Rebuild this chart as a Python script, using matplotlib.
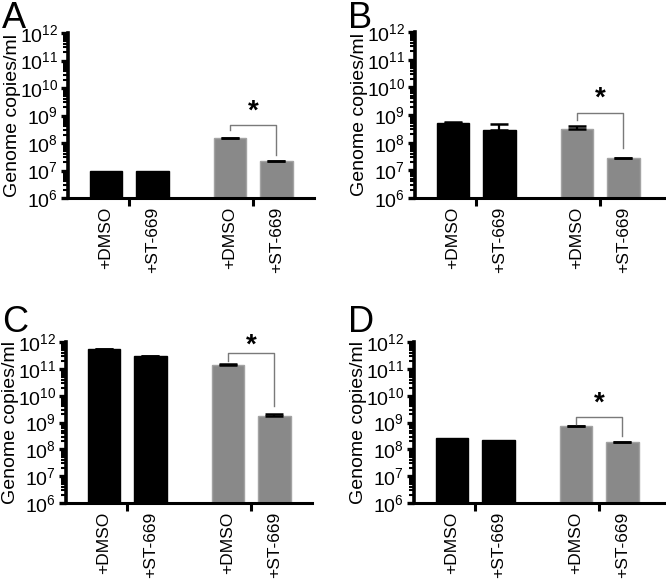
import matplotlib
matplotlib.use("Agg")
import matplotlib.pyplot as plt
from matplotlib.ticker import LogLocator, NullFormatter

plt.rcParams["font.family"] = ["Liberation Sans", "DejaVu Sans"]

# bar values per panel: two black bars, then two grey bars
labels = ["+DMSO", "+ST-669", "+DMSO", "+ST-669"]
panel_names = ["A", "B", "C", "D"]
values = {
    "A": [1.0e7, 1.0e7, 1.5e8, 2.2e7],
    "B": [5.0e8, 2.9e8, 3.2e8, 2.8e7],
    "C": [5.3e11, 2.9e11, 1.4e11, 1.8e9],
    "D": [2.6e8, 2.15e8, 7.5e8, 1.9e8],
}
# top of the upper error bar (None = no error bar drawn)
err_top = {
    "A": [None, None, 1.55e8, 2.25e7],
    "B": [5.5e8, 4.6e8, 4.0e8, 2.9e7],
    "C": [5.6e11, 3.0e11, 1.5e11, 2.05e9],
    "D": [None, None, 7.7e8, 1.95e8],
}
# significance bracket: top, left leg end, right leg end, asterisk height
bracket = {
    "A": [4.4e8, 3.0e8, 3.6e7, 1.4e9],
    "B": [1.15e9, 6.6e8, 6.3e7, 4.0e9],
    "C": [3.8e11, 2.0e11, 4.0e9, 7.5e11],
    "D": [1.55e9, 9.0e8, 3.2e8, 5.0e9],
}

W, H = 666, 582
fig = plt.figure(figsize=(W / 100, H / 100), dpi=100)

# axes boxes in pixels: left, top, right, bottom
boxes = {
    "A": (68, 33, 314, 198),
    "B": (415, 32, 666, 198),
    "C": (66, 342, 312, 503),
    "D": (414, 342, 666, 503),
}
letter_pos = {"A": (2, 1), "B": (348, 1), "C": (2, 305), "D": (348, 305)}

xpos = [0, 1, 2.68, 3.68]
colors = ["black", "black", "#898989", "#898989"]
edges = ["black", "black", "#a3a3a3", "#a3a3a3"]
unit = 46.3

for name in panel_names:
    l, t, r, b = boxes[name]
    ax = fig.add_axes([l / W, 1 - b / H, (r - l) / W, (b - t) / H])
    vals = values[name]
    ax.set_yscale("log")
    ax.bar(xpos, vals, width=0.71, color=colors, edgecolor=edges,
           linewidth=1.0, bottom=0, zorder=2)
    for x, v, e in zip(xpos, vals, err_top[name]):
        if e is not None:
            ax.errorbar([x], [v], yerr=[[0], [e - v]], fmt="none",
                        ecolor="black", elinewidth=1.6, capsize=6.5,
                        capthick=1.8, zorder=3)
    top, lleg, rleg, star = bracket[name]
    ax.plot([xpos[2], xpos[2], xpos[3], xpos[3]], [lleg, top, top, rleg],
            color="#7a7a7a", lw=1.0, zorder=3, clip_on=False)
    ax.text((xpos[2] + xpos[3]) / 2, star, "*", ha="center", va="center",
            fontsize=20, fontweight="bold", clip_on=False)

    ax.set_ylim(1e6, 1e12)
    xmin = -0.82
    xmax = xmin + (r - l) / unit
    ax.set_xlim(xmin, xmax)

    ax.yaxis.set_major_locator(LogLocator(base=10, numticks=10))
    ax.yaxis.set_minor_locator(LogLocator(base=10, subs=range(2, 10), numticks=100))
    ax.yaxis.set_minor_formatter(NullFormatter())
    ax.tick_params(axis="y", which="major", length=5, width=2.4,
                   labelsize=14, pad=2)
    ax.tick_params(axis="y", which="minor", length=3.5, width=1.5)

    ax.set_xticks(xpos)
    ax.set_xticklabels(labels, rotation=90, fontsize=12.5)
    ax.set_xticks([0.5, 3.18], minor=True)
    ax.tick_params(axis="x", which="major", length=0, pad=6)
    ax.tick_params(axis="x", which="minor", length=6, width=2.2)

    for s in ["top", "right"]:
        ax.spines[s].set_visible(False)
    ax.spines["left"].set_linewidth(2.6)
    ax.spines["bottom"].set_linewidth(2.2)

    ax.set_ylabel("Genome copies/ml", fontsize=14)
    ax.yaxis.set_label_coords(-47 / (r - l), 0.5)

    lx, ly = letter_pos[name]
    fig.text(lx / W, 1 - ly / H, name, fontsize=26, ha="left", va="top")

fig.savefig("out.png", dpi=100)
